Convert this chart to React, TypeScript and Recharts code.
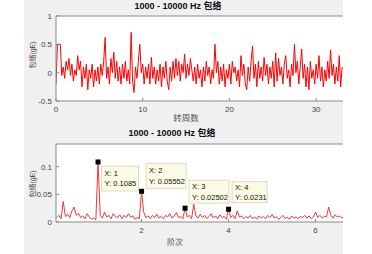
import {
  LineChart,
  Line,
  XAxis,
  YAxis,
  CartesianGrid,
  ReferenceLine,
  ReferenceDot,
} from "recharts";

const titleText = "1000 - 10000 Hz 包络";
const yLabel = "包络(gE)";
const turnsLabel = "转周数";
const orderLabel = "阶次";

// envelope signal, one sample every 1/6 turn (0 .. 33)
const turnStep = 1 / 6;
const envelope = [
  -0.2, 0.5, 0.5, 0.5, -0.05, 0.1,
  -0.1, 0.2, 0.05, 0.25, -0.05, 0.15,
  -0.15, 0.05, -0.05, 0.3, 0.05, 0.2,
  -0.25, 0.1, -0.1, 0.15, -0.3, 0.05,
  -0.1, 0.15, -0.25, 0.05, -0.15, 0.1,
  -0.2, 0.15, -0.05, 0.2, 0.62, -0.1,
  0.1, -0.2, 0.25, 0.0, 0.36, -0.1,
  0.2, -0.15, 0.1, -0.2, 0.15, -0.1,
  0.2, -0.15, 0.05, -0.2, 0.71, -0.15,
  -0.35, 0.1, -0.1, 0.2, 0.5, 0.0,
  0.15, -0.2, 0.1, -0.1, 0.15, -0.2,
  0.27, -0.1, 0.1, -0.2, 0.05, -0.15,
  0.15, -0.25, 0.1, -0.1, 0.2, -0.15,
  -0.3, 0.1, -0.15, 0.2, -0.1, 0.25,
  -0.05, 0.2, -0.15, 0.15, 0.0, 0.33,
  -0.1, 0.15, -0.05, 0.25, 0.05, -0.15,
  0.1, -0.2, 0.15, -0.1, 0.05, -0.25,
  0.1, -0.15, 0.2, -0.05, 0.1, -0.2,
  0.05, -0.1, 0.5, 0.0, 0.2, -0.2,
  0.1, -0.15, 0.15, -0.25, 0.05, -0.1,
  0.15, -0.2, 0.2, 0.0, 0.1, -0.15,
  0.05, -0.25, 0.3, -0.05, 0.15, -0.2,
  -0.3, 0.1, -0.15, 0.2, 0.47, -0.1,
  0.15, -0.25, 0.2, -0.1, 0.1, -0.15,
  0.27, -0.05, 0.15, -0.2, 0.1, -0.1,
  0.2, -0.25, 0.35, -0.15, 0.25, -0.05,
  0.1, -0.2, 0.15, 0.3, -0.1, 0.05,
  -0.25, 0.15, -0.05, 0.5, 0.0, 0.2,
  -0.2, 0.1, 0.42, -0.1, 0.15, -0.25,
  0.1, -0.3, 0.2, -0.1, 0.05, -0.2,
  0.15, -0.1, 0.3, -0.15, 0.1, -0.25,
  0.05, -0.15, 0.2, -0.1, 0.4, -0.05,
  0.15, -0.2, 0.1, -0.15, 0.3, -0.25,
  0.1,
];

// envelope spectrum, one bin every 0.05 order (0.05 .. 6.65)
const orderStep = 0.05;
const spectrum = [
  0.008, 0.012, 0.006, 0.037, 0.01, 0.014, 0.008, 0.02, 0.027, 0.012,
  0.016, 0.008, 0.011, 0.006, 0.015, 0.009, 0.005, 0.007, 0.004, 0.1085,
  0.012, 0.007, 0.018, 0.009, 0.012, 0.006, 0.015, 0.01, 0.008, 0.013,
  0.006, 0.012, 0.008, 0.015, 0.009, 0.011, 0.005, 0.008, 0.006, 0.05552,
  0.018, 0.008, 0.011, 0.006, 0.012, 0.008, 0.014, 0.007, 0.01, 0.006,
  0.012, 0.009, 0.015, 0.007, 0.011, 0.017, 0.008, 0.01, 0.006, 0.02502,
  0.009, 0.012, 0.006, 0.032, 0.011, 0.007, 0.014, 0.008, 0.012, 0.006,
  0.01, 0.015, 0.007, 0.011, 0.006, 0.013, 0.008, 0.01, 0.005, 0.0231,
  0.008, 0.012, 0.006, 0.02, 0.009, 0.011, 0.006, 0.01, 0.007, 0.012,
  0.006, 0.009, 0.005, 0.011, 0.007, 0.01, 0.006, 0.012, 0.008, 0.014,
  0.007, 0.01, 0.005, 0.008, 0.012, 0.006, 0.009, 0.005, 0.011, 0.007,
  0.009, 0.006, 0.01, 0.008, 0.012, 0.007, 0.011, 0.006, 0.009, 0.018,
  0.008, 0.012, 0.007, 0.01, 0.009, 0.027, 0.012, 0.007, 0.013, 0.009,
  0.011, 0.007, 0.01,
];

const turnTicks = [0, 10, 20, 30];
const envTicks = [-0.5, 0, 0.5, 1];
const orderTicks = [2, 4, 6];
const specTicks = [0, 0.05, 0.1];

// data tips
const tipOrders = [1, 2, 3, 4];
const tipValues = [0.1085, 0.05552, 0.02502, 0.0231];

const envelopeData = envelope.map((v, i) => ({ turn: +(i * turnStep).toFixed(4), value: v }));
const spectrumData = spectrum.map((v, i) => ({ order: +((i + 1) * orderStep).toFixed(3), value: v }));

const FONT = '"Liberation Sans", Arial, "Noto Sans CJK SC", sans-serif';
const AXIS = "#8a8a8a";
const TICK = { fill: "#444", fontSize: 8, fontFamily: FONT };

// box placement relative to the marked point
const tipBox = [
  { dx: 3.5, dy: 4, w: 37, h: 25 },
  { dx: 4.5, dy: -28, w: 40, h: 25 },
  { dx: 4, dy: -28, w: 40, h: 23 },
  { dx: 3.5, dy: -27.5, w: 35, h: 21 },
];

function DataTip(props: { cx?: number; cy?: number; idx: number }) {
  const { cx = 0, cy = 0, idx } = props;
  const b = tipBox[idx];
  const x = cx + b.dx;
  const y = cy + b.dy;
  return (
    <g>
      <rect x={x} y={y} width={b.w} height={b.h} fill="#fbfbe3" stroke="#d2d2c0" strokeWidth={0.8} />
      <text x={x + 3} y={y + b.h / 2 - 2.5} fontSize={7.5} fontFamily={FONT} fill="#111">
        {`X: ${tipOrders[idx]}`}
      </text>
      <text x={x + 3} y={y + b.h / 2 + 8} fontSize={7.5} fontFamily={FONT} fill="#111">
        {`Y: ${tipValues[idx]}`}
      </text>
      <rect x={cx - 2.5} y={cy - 2.5} width={5} height={5} fill="#000" />
    </g>
  );
}

const abs = (style: React.CSSProperties): React.CSSProperties => ({ position: "absolute", fontFamily: FONT, whiteSpace: "nowrap", ...style });

export default function App() {
  return (
    <div style={{ position: "fixed", left: 0, top: 0, width: 372, height: 254, background: "#fff", overflow: "hidden" }}>
      <div style={{ position: "absolute", left: 24, top: 0, width: 319, height: 254, background: "#f0f0f0" }} />

      <div style={{ position: "absolute", left: 0, top: 0 }}>
        <LineChart width={343} height={120} data={envelopeData} margin={{ top: 16, right: 0, left: 0, bottom: 0 }}>
          <CartesianGrid fill="#fff" stroke="none" horizontal={false} vertical={false} />
          <XAxis
            dataKey="turn"
            type="number"
            domain={[0, 33.1]}
            ticks={turnTicks}
            allowDataOverflow
            height={19}
            stroke={AXIS}
            tickSize={-3}
            tickMargin={8}
            tick={TICK}
            interval={0}
          />
          <YAxis
            type="number"
            domain={[-0.5, 1]}
            ticks={envTicks}
            width={56}
            stroke={AXIS}
            tickSize={-3}
            tickMargin={7}
            tick={TICK}
            interval={0}
          />
          <ReferenceLine y={1} stroke={AXIS} />
          <Line dataKey="value" stroke="#ff0000" strokeWidth={1} dot={false} isAnimationActive={false} />
        </LineChart>
      </div>

      <div style={{ position: "absolute", left: 0, top: 128 }}>
        <LineChart width={343} height={113} data={spectrumData} margin={{ top: 16, right: 0, left: 0, bottom: 0 }}>
          <CartesianGrid fill="#fff" stroke="none" horizontal={false} vertical={false} />
          <XAxis
            dataKey="order"
            type="number"
            domain={[0.034, 6.63]}
            ticks={orderTicks}
            allowDataOverflow
            height={19}
            stroke={AXIS}
            tickSize={-3}
            tickMargin={8}
            tick={TICK}
            interval={0}
          />
          <YAxis
            type="number"
            domain={[0, 0.141]}
            ticks={specTicks}
            width={56}
            stroke={AXIS}
            tickSize={-3}
            tickMargin={7}
            tick={TICK}
            interval={0}
          />
          <ReferenceLine y={0.141} stroke={AXIS} />
          <Line dataKey="value" stroke="#f22020" strokeWidth={0.9} dot={false} isAnimationActive={false} />
          {tipOrders.map((o, i) => (
            <ReferenceDot
              key={o}
              x={o}
              y={tipValues[i]}
              r={3}
              shape={(p: any) => <DataTip cx={p.cx} cy={p.cy} idx={i} />}
            />
          ))}
        </LineChart>
      </div>

      <div style={abs({ left: 178, top: 0, transform: "translateX(-50%)", fontSize: 9, fontWeight: "bold", color: "#111", lineHeight: "12px" })}>
        {titleText}
      </div>
      <div style={abs({ left: 172, top: 127, transform: "translateX(-50%)", fontSize: 9, fontWeight: "bold", color: "#111", lineHeight: "12px" })}>
        {titleText}
      </div>
      <div style={abs({ left: 186, top: 112, transform: "translateX(-50%)", fontSize: 8.5, color: "#555", lineHeight: "12px" })}>
        {turnsLabel}
      </div>
      <div style={abs({ left: 175, top: 237, transform: "translateX(-50%)", fontSize: 8, color: "#555", lineHeight: "12px" })}>
        {orderLabel}
      </div>
      <div style={abs({ left: 33, top: 55, transform: "translate(-50%, -50%) rotate(-90deg)", fontSize: 7, color: "#444", lineHeight: "10px" })}>
        {yLabel}
      </div>
      <div style={abs({ left: 33, top: 184, transform: "translate(-50%, -50%) rotate(-90deg)", fontSize: 7, color: "#444", lineHeight: "10px" })}>
        {yLabel}
      </div>
    </div>
  );
}
